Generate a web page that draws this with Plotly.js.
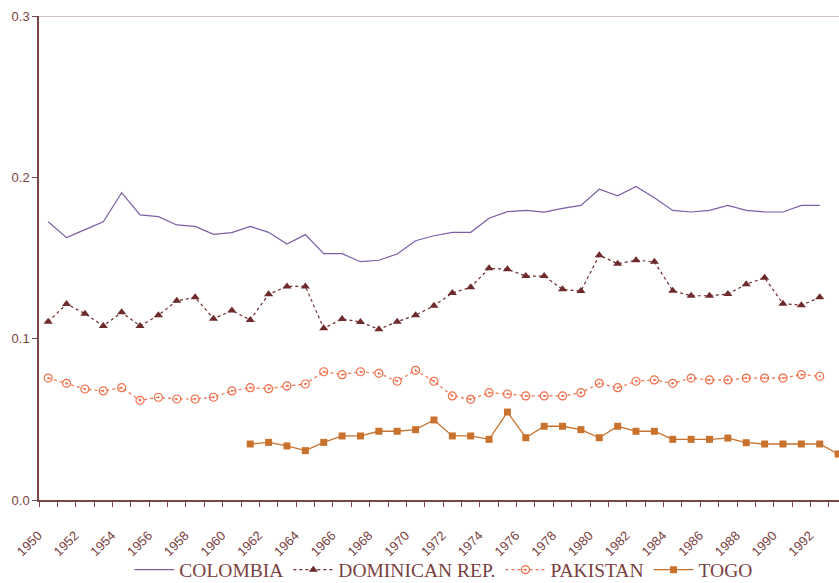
<!DOCTYPE html>
<html>
<head>
<meta charset="utf-8">
<script src="https://cdn.plot.ly/plotly-3.0.1.min.js"></script>
<style>html,body{margin:0;padding:0;background:#fff}#chart{width:839px;height:583px}</style>
</head>
<body>
<div id="chart"></div>
<script>
const years = [];
for (let y = 1950; y <= 1993; y++) years.push(String(y));

const colombia = [0.1725,0.1626,0.1676,0.1725,0.1905,0.1767,0.1756,0.1705,0.1696,0.1647,
  0.1657,0.1696,0.1659,0.1587,0.1645,0.1527,0.1527,0.1477,0.1486,0.1525,
  0.1607,0.1638,0.1659,0.1659,0.1746,0.1787,0.1795,0.1785,0.1808,0.1826,
  0.1926,0.1886,0.1944,0.1874,0.1795,0.1785,0.1795,0.1826,0.1795,0.1785,
  0.1785,0.1826,0.1826,null];

const dominican = [0.1105,0.1215,0.1155,0.1079,0.1163,0.1079,0.1145,0.1235,0.1256,0.1124,
  0.1174,0.1116,0.1275,0.1324,0.1324,0.1064,0.1122,0.1103,0.1058,0.1105,
  0.1145,0.1204,0.1283,0.1318,0.1436,0.1430,0.1388,0.1388,0.1306,0.1295,
  0.1517,0.1465,0.1486,0.1477,0.1297,0.1266,0.1266,0.1277,0.1337,0.1378,
  0.1217,0.1207,0.1256,null];

const pakistan = [0.0756,0.0723,0.0688,0.0676,0.0696,0.0618,0.0637,0.0626,0.0626,0.0637,
  0.0676,0.0696,0.0690,0.0707,0.0719,0.0795,0.0777,0.0795,0.0785,0.0736,
  0.0804,0.0736,0.0645,0.0624,0.0665,0.0657,0.0645,0.0645,0.0645,0.0665,
  0.0723,0.0696,0.0736,0.0744,0.0723,0.0756,0.0744,0.0744,0.0756,0.0756,
  0.0756,0.0777,0.0767,null];

const togo = [null,null,null,null,null,null,null,null,null,null,
  null,0.0347,0.0357,0.0335,0.0306,0.0357,0.0397,0.0397,0.0426,0.0426,
  0.0436,0.0496,0.0397,0.0397,0.0376,0.0545,0.0386,0.0457,0.0457,0.0436,
  0.0386,0.0457,0.0426,0.0426,0.0376,0.0376,0.0376,0.0384,0.0355,0.0347,
  0.0347,0.0347,0.0347,0.0285];

const yTicks = [0, 0.1, 0.2, 0.3];
const xTickText = years.map((y, i) => (i % 2 === 0 ? y : ''));

const axisColor = '#7a4545';
const textColor = '#7a3f3f';

const traces = [
  {name:'COLOMBIA', x:years, y:colombia, type:'scatter', mode:'lines',
   line:{color:'#7b5ea6', width:1.2}},
  {name:'DOMINICAN REP.', x:years, y:dominican, type:'scatter', mode:'lines+markers',
   line:{color:'#6e2b2b', width:1.2, dash:'dot'},
   marker:{symbol:'triangle-up', size:8, color:'#6e2b2b'}},
  {name:'PAKISTAN', x:years, y:pakistan, type:'scatter', mode:'lines+markers',
   line:{color:'#f0704a', width:1.2, dash:'dot'},
   marker:{symbol:'circle-open-dot', size:8, color:'#f0704a', line:{width:1.2}}},
  {name:'TOGO', x:years, y:togo, type:'scatter', mode:'lines+markers',
   line:{color:'#c8722e', width:1.3},
   marker:{symbol:'square', size:7, color:'#c8722e'}}
];

const layout = {
  width:839, height:583,
  margin:{l:39, r:0, t:16, b:83, autoexpand:false},
  paper_bgcolor:'#ffffff', plot_bgcolor:'#ffffff',
  showlegend:true,
  legend:{orientation:'h', x:0.529, xanchor:'center', xref:'container',
    y:-0.1446, yanchor:'middle', yref:'paper', bgcolor:'rgba(0,0,0,0)',
    font:{family:'Liberation Serif, Times New Roman, serif', size:19.5, color:textColor},
    itemwidth:40, tracegroupgap:0},
  xaxis:{type:'category', range:[-0.5, 43.05], tickvals:years, ticktext:xTickText,
    tickson:'boundaries', ticks:'outside', ticklen:5, tickcolor:axisColor,
    tickangle:-45, ticklabelstandoff:21, ticklabelshift:-10, showgrid:false, zeroline:false, showline:true,
    linecolor:axisColor, linewidth:1.5, automargin:false,
    tickfont:{family:'Liberation Sans, Arial, sans-serif', size:13, color:textColor}},
  yaxis:{range:[0, 0.3], tickvals:yTicks, ticktext:yTicks.map(v=>v.toFixed(1)),
    ticks:'outside', ticklen:5, tickcolor:axisColor, showgrid:false, zeroline:false,
    showline:true, linecolor:axisColor, linewidth:1.5, automargin:false,
    tickfont:{family:'Liberation Sans, Arial, sans-serif', size:13, color:textColor}},
  shapes:[{type:'line', xref:'paper', yref:'y', x0:0, x1:1, y0:0.3, y1:0.3,
    line:{color:'#a88a80', width:1}}]
};

Plotly.newPlot('chart', traces, layout, {displayModeBar:false, responsive:false});
</script>
</body>
</html>
